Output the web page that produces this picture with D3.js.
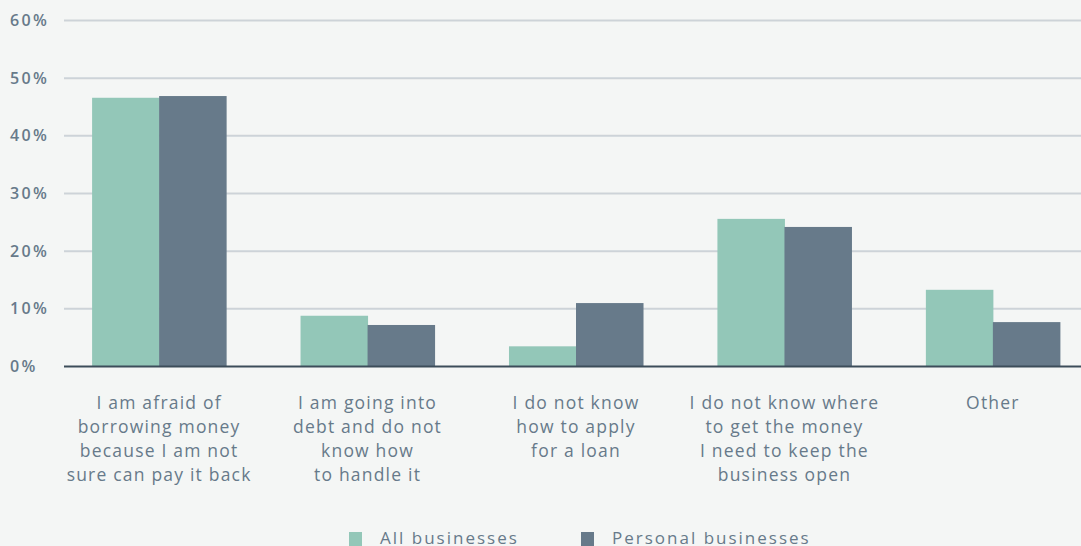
<!DOCTYPE html>
<html><head><meta charset="utf-8">
<script src="https://cdn.jsdelivr.net/npm/d3@7"></script>
<style>
html,body{margin:0;padding:0;background:#f4f6f5;}
svg{display:block;font-family:"Open Sans","Noto Sans",sans-serif;}
</style></head><body>
<svg id="c" width="1081" height="546"></svg>
<script>
const categories = [
  ["I am afraid of","borrowing money","because I am not","sure can pay it back"],
  ["I am going into","debt and do not","know how","to handle it"],
  ["I do not know","how to apply","for a loan"],
  ["I do not know where","to get the money","I need to keep the","business open"],
  ["Other"]
];
const seriesNames = ["All businesses","Personal businesses"];
const allBusinesses = [46.6, 8.8, 3.5, 25.6, 13.3];
const personalBusinesses = [46.9, 7.2, 11.0, 24.2, 7.7];
const yTicks = [0,10,20,30,40,50,60];
const colors = ["#93c7b8","#677a8a"];

const svg = d3.select("#c");
const W = 1081, H = 546;
const x0 = d3.scaleBand().domain(d3.range(categories.length)).range([55, 1097]).paddingInner(0.357).paddingOuter(0.178);
const x1 = d3.scaleBand().domain([0,1]).range([0, x0.bandwidth()]);
const y = d3.scaleLinear().domain([0,60]).range([366.5, 20.5]);

// gridlines
svg.append("g").selectAll("line").data(yTicks.filter(d=>d>0)).join("line")
  .attr("x1",64).attr("x2",W).attr("y1",d=>y(d)).attr("y2",d=>y(d))
  .attr("stroke","#cdd3d8").attr("stroke-width",2);

// y labels
svg.append("g").selectAll("text").data(yTicks).join("text")
  .attr("x",10).attr("y",d=>y(d)).attr("dy","0.35em")
  .attr("fill","#677a8a").attr("font-size",16).attr("letter-spacing","2.3px")
  .attr("font-weight",600)
  .text(d=>d+"%");

// bars
const vals = [allBusinesses, personalBusinesses];
const g = svg.append("g");
categories.forEach((c,i)=>{
  vals.forEach((s,j)=>{
    g.append("rect")
      .attr("x", x0(i)+x1(j)).attr("width", x1.bandwidth()+0.5)
      .attr("y", y(s[i])).attr("height", y(0)-y(s[i]))
      .attr("fill", colors[j]);
  });
});

// baseline
svg.append("line").attr("x1",64).attr("x2",W).attr("y1",y(0)).attr("y2",y(0))
  .attr("stroke","#3c4d5a").attr("stroke-width",2);

// category labels
const lab = svg.append("g");
categories.forEach((lines,i)=>{
  const t = lab.append("text").attr("text-anchor","middle")
    .attr("fill","#677a8a").attr("font-size",17.5).attr("letter-spacing","1.2px");
  lines.forEach((l,k)=>{
    t.append("tspan").attr("x", x0(i)+x0.bandwidth()/2).attr("y", 409 + k*24).text(l);
  });
});

// legend
const leg = svg.append("g");
const legX = [349, 581];
seriesNames.forEach((n,j)=>{
  leg.append("rect").attr("x",legX[j]).attr("y",532).attr("width",13).attr("height",14).attr("fill",colors[j]);
  leg.append("text").attr("x",legX[j]+31).attr("y",544).attr("fill","#677a8a")
    .attr("font-size",17).attr("letter-spacing","2px").text(n);
});
</script>
</body></html>
